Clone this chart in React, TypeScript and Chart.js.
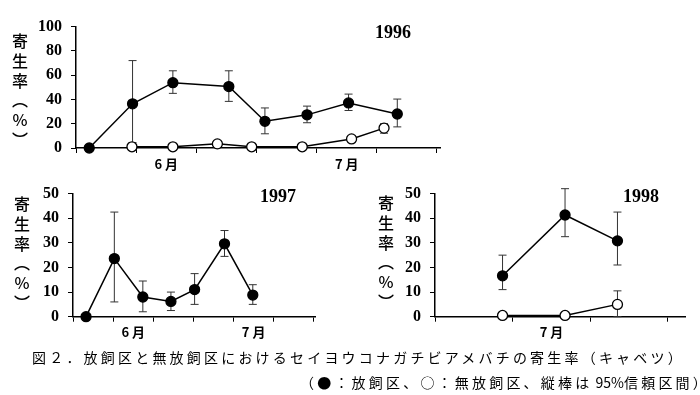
import React, { useEffect, useRef } from "react";
import { Chart, registerables } from "chart.js";

Chart.register(...registerables);

// ---------- data (x = days from 1 June, y = parasitism rate %) ----------
// 1996
const days96Released = [2.2, 9.4, 16.1, 25.4, 31.4, 38.4, 45.3, 53.4];
const rate96Released = [0, 36.4, 53.8, 50.6, 22, 27.3, 37.1, 28];
const low96Released = [null, 4.4, 45, 38.4, 11.7, 20.8, 30.9, 17.4];
const high96Released = [null, 72, 63.6, 63.6, 33, 34.5, 44.4, 40.3];
const days96Control = [9.3, 16.1, 23.5, 29.2, 37.6, 45.8, 51.2];
const rate96Control = [1, 1, 3.4, 1, 1, 7.5, 16.4];
const low96Control = [null, null, null, null, null, null, 12.2];
const high96Control = [null, null, null, null, null, null, 20];

// 1997
const days97Released = [3.25, 10.3, 17.4, 24.4, 30.3, 37.75, 44.8];
const rate97Released = [0, 23.6, 8, 6.2, 11, 29.6, 8.8];
const low97Released = [null, 6, 2, 2.5, 5, 24.5, 5];
const high97Released = [null, 42.5, 14.5, 10, 17.5, 35, 13];

// 1998 (x = days from 21 June)
const days98Released = [8.7, 16.75, 23.5];
const rate98Released = [16.6, 41.3, 30.8];
const low98Released = [11, 32.5, 21];
const high98Released = [25, 52, 42.5];
const days98Control = [8.7, 16.75, 23.5];
const rate98Control = [0.5, 0.5, 5];
const low98Control = [null, null, 0];
const high98Control = [null, null, 10.5];

// tick labels
const tickDays96 = [0, 10, 15, 20, 30, 40, 45, 50, 60];
const monthLabels96: Record<number, string> = { 15: "6 月", 45: "7 月" };
const tickDays97 = [0, 10, 15, 20, 30, 40, 45, 50, 60];
const monthLabels97: Record<number, string> = { 15: "6 月", 45: "7 月" };
const tickDays98 = [0, 10, 15, 20, 30];
const monthLabels98: Record<number, string> = { 15: "7 月" };

const yearLabels = ["1996", "1997", "1998"];
const yAxisTitle = "寄生率（%）";
const captionLine1 = "図２．放飼区と無放飼区におけるセイヨウコナガチビアメバチの寄生率（キャベツ）";
const captionLine2a = "（●：放飼区、○：無放飼区、縦棒は";
const captionLine2b = " 95%";
const captionLine2c = "信頼区間）";

// ---------- helpers ----------
const toPoints = (xs: number[], ys: number[]) => xs.map((x, i) => ({ x, y: ys[i] }));

const errorBarPlugin = {
  id: "errorBars",
  beforeDatasetsDraw(chart: any) {
    const ctx = chart.ctx;
    const xs = chart.scales.x;
    const ys = chart.scales.y;
    ctx.save();
    ctx.strokeStyle = "#333";
    ctx.lineWidth = 1;
    chart.data.datasets.forEach((ds: any) => {
      if (!ds.errLow) return;
      ds.data.forEach((p: any, i: number) => {
        const lo = ds.errLow[i];
        const hi = ds.errHigh[i];
        if (lo == null || hi == null) return;
        const x = xs.getPixelForValue(p.x);
        const y1 = ys.getPixelForValue(lo);
        const y2 = ys.getPixelForValue(hi);
        ctx.beginPath();
        ctx.moveTo(x, y1);
        ctx.lineTo(x, y2);
        ctx.moveTo(x - 4, y1);
        ctx.lineTo(x + 4, y1);
        ctx.moveTo(x - 4, y2);
        ctx.lineTo(x + 4, y2);
        ctx.stroke();
      });
    });
    ctx.restore();
  },
};

function makeDataset(xs: number[], ys: number[], lo: any[], hi: any[], filled: boolean) {
  return {
    data: toPoints(xs, ys),
    errLow: lo,
    errHigh: hi,
    borderColor: "#000",
    borderWidth: 1.5,
    backgroundColor: filled ? "#000" : "#fff",
    pointBackgroundColor: filled ? "#000" : "#fff",
    pointBorderColor: "#000",
    pointBorderWidth: 1.3,
    pointRadius: 5,
    pointStyle: "circle",
    showLine: true,
    fill: false,
    tension: 0,
    clip: false,
  };
}

type PanelProps = {
  left: number;
  top: number;
  width: number;
  height: number;
  yWidth: number;
  xHeight: number;
  padTop: number;
  padRight: number;
  yMax: number;
  yStep: number;
  xMax: number;
  tickDays: number[];
  monthLabels: Record<number, string>;
  datasets: any[];
};

function Panel(p: PanelProps) {
  const ref = useRef<HTMLCanvasElement | null>(null);
  useEffect(() => {
    if (!ref.current) return;
    const chart = new Chart(ref.current, {
      type: "line",
      data: { datasets: p.datasets },
      plugins: [errorBarPlugin as any],
      options: {
        responsive: false,
        animation: false,
        devicePixelRatio: 1,
        layout: { padding: { top: p.padTop, right: p.padRight, left: 0, bottom: 0 } },
        plugins: { legend: { display: false }, tooltip: { enabled: false } },
        scales: {
          x: {
            type: "linear",
            min: 0,
            max: p.xMax,
            afterFit: (s: any) => {
              s.height = p.xHeight;
            },
            afterBuildTicks: (s: any) => {
              s.ticks = p.tickDays.map((v) => ({ value: v }));
            },
            ticks: {
              autoSkip: false,
              maxRotation: 0,
              padding: 3,
              color: "#000",
              font: { family: "'Noto Sans CJK JP'", size: 13, weight: "bold" },
              callback: (v: any) => p.monthLabels[v] || "",
            },
            grid: {
              drawOnChartArea: false,
              drawTicks: true,
              tickLength: 5,
              tickWidth: 1,
              tickColor: (c: any) => (c.tick && p.monthLabels[c.tick.value] ? "rgba(0,0,0,0)" : "#000"),
            },
            border: { display: true, color: "#000", width: 1.5 },
          },
          y: {
            type: "linear",
            min: 0,
            max: p.yMax,
            afterFit: (s: any) => {
              s.width = p.yWidth;
            },
            ticks: {
              stepSize: p.yStep,
              padding: 9,
              color: "#000",
              font: { family: "'Liberation Serif'", size: 16, weight: "bold" },
            },
            grid: {
              drawOnChartArea: false,
              drawTicks: true,
              tickLength: 5,
              tickWidth: 1,
              tickColor: "#000",
            },
            border: { display: true, color: "#000", width: 1.5 },
          },
        },
      } as any,
    });
    return () => chart.destroy();
  }, []);
  return (
    <canvas
      ref={ref}
      width={p.width}
      height={p.height}
      style={{ position: "absolute", left: p.left, top: p.top, width: p.width, height: p.height }}
    />
  );
}

const yearStyle: React.CSSProperties = {
  position: "absolute",
  fontFamily: "'Liberation Serif', serif",
  fontWeight: "bold",
  fontSize: 18,
  lineHeight: "18px",
  color: "#000",
  whiteSpace: "nowrap",
};

const vTitleStyle: React.CSSProperties = {
  position: "absolute",
  writingMode: "vertical-rl",
  textOrientation: "upright",
  fontFamily: "'Noto Sans CJK JP', sans-serif",
  fontSize: 16,
  fontWeight: 500,
  lineHeight: "16px",
  letterSpacing: 3.8,
  color: "#000",
};

const captionStyle: React.CSSProperties = {
  position: "absolute",
  fontFamily: "'Noto Sans CJK JP', sans-serif",
  fontSize: 14,
  lineHeight: "16px",
  letterSpacing: 3.2,
  color: "#000",
  whiteSpace: "nowrap",
};

export default function App() {
  return (
    <div
      style={{
        position: "absolute",
        left: 0,
        top: 0,
        width: 700,
        height: 395,
        background: "#fff",
        overflow: "hidden",
      }}
    >
      <Panel
        left={30}
        top={8}
        width={420}
        height={175}
        yWidth={46}
        xHeight={35}
        padTop={12}
        padRight={10}
        yMax={100}
        yStep={20}
        xMax={60.5}
        tickDays={tickDays96}
        monthLabels={monthLabels96}
        datasets={[
          makeDataset(days96Released, rate96Released, low96Released, high96Released, true),
          makeDataset(days96Control, rate96Control, low96Control, high96Control, false),
        ]}
      />
      <Panel
        left={20}
        top={175}
        width={310}
        height={165}
        yWidth={53}
        xHeight={23.3}
        padTop={12.3}
        padRight={15}
        yMax={50}
        yStep={10}
        xMax={60.3}
        tickDays={tickDays97}
        monthLabels={monthLabels97}
        datasets={[makeDataset(days97Released, rate97Released, low97Released, high97Released, true)]}
      />
      <Panel
        left={380}
        top={175}
        width={315}
        height={165}
        yWidth={55}
        xHeight={23.3}
        padTop={13.3}
        padRight={10}
        yMax={50}
        yStep={10}
        xMax={32.2}
        tickDays={tickDays98}
        monthLabels={monthLabels98}
        datasets={[
          makeDataset(days98Released, rate98Released, low98Released, high98Released, true),
          makeDataset(days98Control, rate98Control, low98Control, high98Control, false),
        ]}
      />

      <div style={{ ...yearStyle, left: 375, top: 23 }}>{yearLabels[0]}</div>
      <div style={{ ...yearStyle, left: 260, top: 187 }}>{yearLabels[1]}</div>
      <div style={{ ...yearStyle, left: 623, top: 187 }}>{yearLabels[2]}</div>

      <div style={{ ...vTitleStyle, left: 12, top: 33 }}>{yAxisTitle}</div>
      <div style={{ ...vTitleStyle, left: 14, top: 196 }}>{yAxisTitle}</div>
      <div style={{ ...vTitleStyle, left: 378, top: 195 }}>{yAxisTitle}</div>

      <div style={{ ...captionStyle, left: 32, top: 349 }}>{captionLine1}</div>
      <div style={{ ...captionStyle, left: 300, top: 374 }}>
        {captionLine2a}
        <span style={{ letterSpacing: 0 }}>{captionLine2b}</span>
        {captionLine2c}
      </div>
    </div>
  );
}
